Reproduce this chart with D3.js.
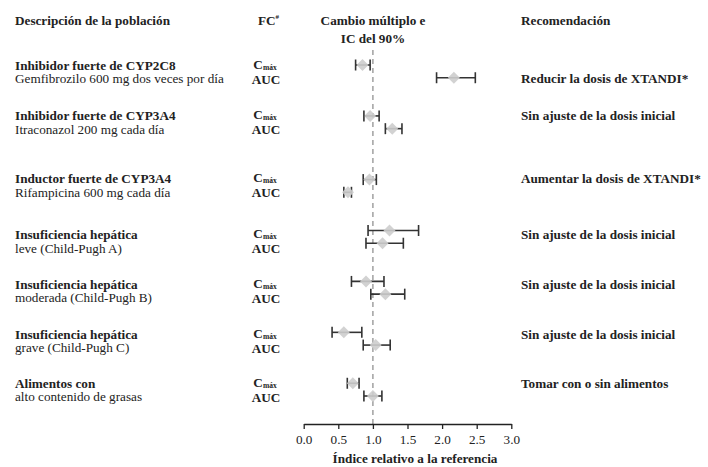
<!DOCTYPE html>
<html>
<head>
<meta charset="utf-8">
<script src="https://cdn.jsdelivr.net/npm/d3@7"></script>
<style>
  html, body { margin: 0; padding: 0; background: #fff; }
  svg { display: block; font-family: "Liberation Serif", "Times New Roman", serif; }
</style>
</head>
<body>
<svg id="chart" width="708" height="467"></svg>
<script>
// Population groups
const groupTitles = [
  "Inhibidor fuerte de CYP2C8",
  "Inhibidor fuerte de CYP3A4",
  "Inductor fuerte de CYP3A4",
  "Insuficiencia hepática",
  "Insuficiencia hepática",
  "Insuficiencia hepática",
  "Alimentos con"
];
const groupSubtitles = [
  "Gemfibrozilo 600 mg dos veces por día",
  "Itraconazol 200 mg cada día",
  "Rifampicina 600 mg cada día",
  "leve (Child-Pugh A)",
  "moderada (Child-Pugh B)",
  "grave (Child-Pugh C)",
  "alto contenido de grasas"
];
const recommendations = [
  "Reducir la dosis de XTANDI*",
  "Sin ajuste de la dosis inicial",
  "Aumentar la dosis de XTANDI*",
  "Sin ajuste de la dosis inicial",
  "Sin ajuste de la dosis inicial",
  "Sin ajuste de la dosis inicial",
  "Tomar con o sin alimentos"
];

// Fold change and 90% CI, Cmax
const cmaxEst  = [0.85, 0.96, 0.95, 1.24, 0.90, 0.58, 0.71];
const cmaxLow  = [0.75, 0.87, 0.86, 0.93, 0.69, 0.41, 0.63];
const cmaxHigh = [0.96, 1.09, 1.05, 1.66, 1.16, 0.84, 0.80];

// Fold change and 90% CI, AUC
const aucEst  = [2.17, 1.28, 0.64, 1.14, 1.18, 1.04, 1.00];
const aucLow  = [1.92, 1.18, 0.58, 0.90, 0.97, 0.86, 0.87];
const aucHigh = [2.48, 1.42, 0.69, 1.44, 1.46, 1.25, 1.13];

const xTicks = [0.0, 0.5, 1.0, 1.5, 2.0, 2.5, 3.0];
const referenceValue = 1.0;

// Layout: vertical line slots for each group (marks and text)
const markSlot = [0, 4, 9, 13, 17, 21, 25];
const textSlot = [0.0, 3.95, 8.9, 13.3, 17.2, 21.15, 25.0];
const recLine  = [1, 0, 0, 0, 0, 0, 0];
const lineGap = 13.6;

const svg = d3.select("#chart");
const ink = "#222";
const fontSize = 13.2;

const x = d3.scaleLinear().domain([0, 3]).range([303.7, 511.3]);
const y = d3.scaleLinear().domain([0, 26]).range([65, 396]);

// Headers
const hdr = svg.append("g").attr("font-weight", "bold").attr("font-size", fontSize).attr("fill", ink);
hdr.append("text").attr("x", 15).attr("y", 20).attr("dy", "0.35em").text("Descripción de la población");
const fc = hdr.append("text").attr("x", 258).attr("y", 20).attr("dy", "0.35em");
fc.append("tspan").text("FC");
fc.append("tspan").attr("font-size", 7).attr("dy", "-0.75em").text("#");
hdr.append("text").attr("x", 373).attr("y", 20).attr("dy", "0.35em").attr("text-anchor", "middle").text("Cambio múltiplo e");
hdr.append("text").attr("x", 373).attr("y", 38).attr("dy", "0.35em").attr("text-anchor", "middle").text("IC del 90%");
hdr.append("text").attr("x", 521).attr("y", 20).attr("dy", "0.35em").text("Recomendación");

// Group labels, parameter labels and recommendations
const rows = svg.append("g").attr("font-size", fontSize).attr("fill", ink);
groupTitles.forEach((t, i) => {
  const y0 = y(textSlot[i]), y1 = y0 + lineGap;
  rows.append("text").attr("x", 15).attr("y", y0).attr("dy", "0.35em")
    .attr("font-weight", "bold").text(t);
  rows.append("text").attr("x", 15).attr("y", y1).attr("dy", "0.35em").text(groupSubtitles[i]);

  const c = rows.append("text").attr("x", 265).attr("y", y0 - 1).attr("dy", "0.35em")
    .attr("text-anchor", "middle").attr("font-weight", "bold");
  c.append("tspan").text("C");
  c.append("tspan").attr("font-size", 7.5).attr("dy", "0.2em").text("máx");
  rows.append("text").attr("x", 266).attr("y", y1 + 0.5).attr("dy", "0.35em")
    .attr("text-anchor", "middle").attr("font-weight", "bold").text("AUC");

  rows.append("text").attr("x", 521).attr("y", recLine[i] ? y1 : y0).attr("dy", "0.35em")
    .attr("font-weight", "bold").text(recommendations[i]);
});

// Reference line at no change
svg.append("line")
  .attr("x1", x(referenceValue)).attr("x2", x(referenceValue))
  .attr("y1", 50).attr("y2", 424)
  .attr("stroke", "#999").attr("stroke-width", 1.4).attr("stroke-dasharray", "5,4");

// Forest plot points
const points = [];
groupTitles.forEach((t, i) => {
  points.push({ slot: markSlot[i], est: cmaxEst[i], lo: cmaxLow[i], hi: cmaxHigh[i] });
  points.push({ slot: markSlot[i] + 1, est: aucEst[i], lo: aucLow[i], hi: aucHigh[i] });
});

const capH = 5.5;
const pg = svg.append("g").selectAll("g").data(points).join("g");
pg.append("line")
  .attr("x1", d => x(d.lo)).attr("x2", d => x(d.hi))
  .attr("y1", d => y(d.slot)).attr("y2", d => y(d.slot))
  .attr("stroke", "#333").attr("stroke-width", 1.6);
pg.append("line")
  .attr("x1", d => x(d.lo)).attr("x2", d => x(d.lo))
  .attr("y1", d => y(d.slot) - capH).attr("y2", d => y(d.slot) + capH)
  .attr("stroke", "#333").attr("stroke-width", 1.6);
pg.append("line")
  .attr("x1", d => x(d.hi)).attr("x2", d => x(d.hi))
  .attr("y1", d => y(d.slot) - capH).attr("y2", d => y(d.slot) + capH)
  .attr("stroke", "#333").attr("stroke-width", 1.6);
pg.append("path")
  .attr("transform", d => `translate(${x(d.est)},${y(d.slot)})`)
  .attr("d", "M0,-6L6,0L0,6L-6,0Z")
  .attr("fill", "#cdcdcd").attr("fill-opacity", 0.9);

// X axis
const axis = svg.append("g").attr("transform", "translate(0,424)")
  .call(d3.axisBottom(x).tickValues(xTicks).tickFormat(d3.format(".1f"))
    .tickSize(5).tickSizeOuter(0).tickPadding(6));
axis.select(".domain").attr("stroke", ink).attr("stroke-width", 1.3);
axis.selectAll(".tick line").attr("stroke", ink).attr("stroke-width", 1.3);
axis.selectAll(".tick text").attr("font-family", "Liberation Serif, serif")
  .attr("font-size", fontSize).attr("fill", ink);

svg.append("text").attr("x", 415).attr("y", 458).attr("dy", "0.35em")
  .attr("text-anchor", "middle").attr("font-weight", "bold")
  .attr("font-size", fontSize).attr("fill", ink)
  .text("Índice relativo a la referencia");
</script>
</body>
</html>
